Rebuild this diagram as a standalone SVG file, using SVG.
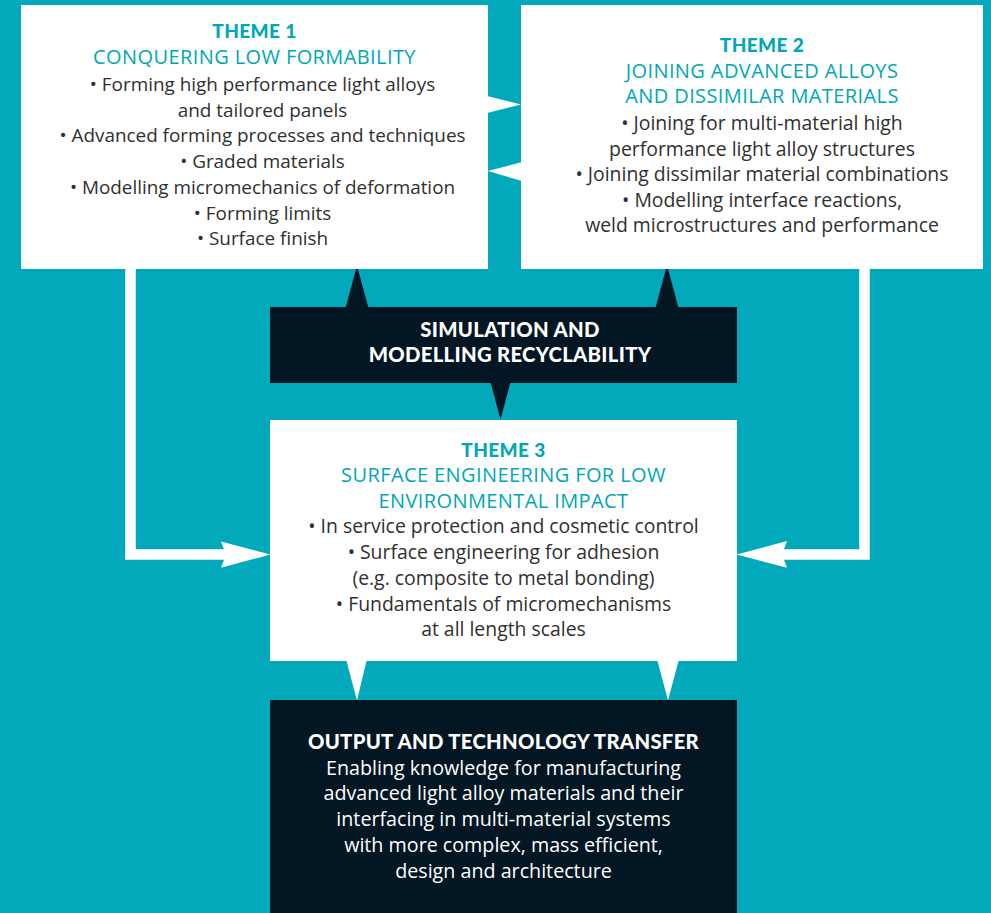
<svg xmlns="http://www.w3.org/2000/svg" width="991" height="913" viewBox="0 0 991 913">
  <style>
    .bg { fill: #02a9ba; }
    .box { fill: #ffffff; }
    .dark { fill: #021624; }
    .head { font-family: "Lato", "Liberation Sans", sans-serif; font-weight: 900; font-size: 19px; letter-spacing: 0.4px; fill: #00a7b8; text-anchor: middle; }
    .sub { font-family: "Open Sans", "Liberation Sans", sans-serif; font-size: 20px; letter-spacing: 0.4px; fill: #00a7b8; text-anchor: middle; }
    .body { font-family: "Open Sans", "Liberation Sans", sans-serif; font-size: 19.4px; fill: #303030; text-anchor: middle; }
    .t1 { font-size: 18.9px; }
    .dhead { font-family: "Lato", "Liberation Sans", sans-serif; font-weight: 900; font-size: 20.3px; letter-spacing: 0.3px; fill: #ffffff; text-anchor: middle; }
    .dbody { font-family: "Open Sans", "Liberation Sans", sans-serif; font-size: 19.7px; fill: #ffffff; text-anchor: middle; }
    .wline { fill: none; stroke: #ffffff; stroke-width: 10.5; stroke-linejoin: miter; }
    .warrow { fill: #ffffff; }
    .darrow { fill: #021624; }
  </style>

  <rect class="bg" x="0" y="0" width="991" height="913"/>

  <!-- connectors: triangles and L-shaped flow lines -->
  <g id="connectors">
    <!-- Theme 1 <-> Theme 2 -->
    <polygon class="warrow" points="487,96 521,104.5 487,113"/>
    <polygon class="warrow" points="522,162 488,171 522,181"/>
    <!-- Simulation box up to themes 1 and 2, down to theme 3 -->
    <polygon class="darrow" points="345.5,308 357,265.5 368.5,308"/>
    <polygon class="darrow" points="655.5,308 667,265 678.5,308"/>
    <polygon class="darrow" points="490.5,382 500.5,419.5 510.5,382"/>
    <!-- Theme 3 down to output -->
    <polygon class="warrow" points="346.5,661 357,700.5 366.5,661"/>
    <polygon class="warrow" points="657.5,661 668,700.5 678.5,661"/>
    <!-- Theme 1 to theme 3 -->
    <polyline class="wline" points="130.5,269 130.5,554.5 226,554.5"/>
    <polygon class="warrow" points="221,541.5 270.5,554.5 221,567.7 226,554.5"/>
    <!-- Theme 2 to theme 3 -->
    <polyline class="wline" points="864.5,269 864.5,554.5 782,554.5"/>
    <polygon class="warrow" points="787,541 736.5,554.5 787,567.7 782,554.5"/>
  </g>

  <g id="theme1">
    <rect class="box" x="21" y="5" width="467" height="264"/>
    <text class="head" x="254.5" y="38">THEME 1</text>
    <text class="sub" x="254.5" y="64">CONQUERING LOW FORMABILITY</text>
    <text class="body t1" x="262.5" y="91">• Forming high performance light alloys</text>
    <text class="body t1" x="262.5" y="117">and tailored panels</text>
    <text class="body t1" x="262.5" y="142">• Advanced forming processes and techniques</text>
    <text class="body t1" x="262.5" y="168">• Graded materials</text>
    <text class="body t1" x="262.5" y="194">• Modelling micromechanics of deformation</text>
    <text class="body t1" x="262.5" y="220">• Forming limits</text>
    <text class="body t1" x="262.5" y="245">• Surface finish</text>
  </g>

  <g id="theme2">
    <rect class="box" x="521" y="5" width="462" height="264"/>
    <text class="head" x="762" y="52">THEME 2</text>
    <text class="sub" x="762" y="78">JOINING ADVANCED ALLOYS</text>
    <text class="sub" x="762" y="103">AND DISSIMILAR MATERIALS</text>
    <text class="body" x="762" y="130">• Joining for multi-material high</text>
    <text class="body" x="762" y="156">performance light alloy structures</text>
    <text class="body" x="762" y="181">• Joining dissimilar material combinations</text>
    <text class="body" x="762" y="207">• Modelling interface reactions,</text>
    <text class="body" x="762" y="232">weld microstructures and performance</text>
  </g>

  <g id="simulation">
    <rect class="dark" x="270" y="307" width="467" height="76"/>
    <text class="dhead" x="510" y="337">SIMULATION AND</text>
    <text class="dhead" x="510" y="362">MODELLING RECYCLABILITY</text>
  </g>

  <g id="theme3">
    <rect class="box" x="270" y="420" width="467" height="241"/>
    <text class="head" x="503.5" y="457">THEME 3</text>
    <text class="sub" x="503.5" y="482">SURFACE ENGINEERING FOR LOW</text>
    <text class="sub" x="503.5" y="508">ENVIRONMENTAL IMPACT</text>
    <text class="body" x="503.5" y="533">• In service protection and cosmetic control</text>
    <text class="body" x="503.5" y="559">• Surface engineering for adhesion</text>
    <text class="body" x="503.5" y="585">(e.g. composite to metal bonding)</text>
    <text class="body" x="503.5" y="611">• Fundamentals of micromechanisms</text>
    <text class="body" x="503.5" y="636">at all length scales</text>
  </g>

  <g id="output">
    <rect class="dark" x="270" y="700" width="467" height="213"/>
    <text class="dhead" x="503.5" y="749">OUTPUT AND TECHNOLOGY TRANSFER</text>
    <text class="dbody" x="503.5" y="775">Enabling knowledge for manufacturing</text>
    <text class="dbody" x="503.5" y="800">advanced light alloy materials and their</text>
    <text class="dbody" x="503.5" y="826">interfacing in multi-material systems</text>
    <text class="dbody" x="503.5" y="852">with more complex, mass efficient,</text>
    <text class="dbody" x="503.5" y="878">design and architecture</text>
  </g>
</svg>
